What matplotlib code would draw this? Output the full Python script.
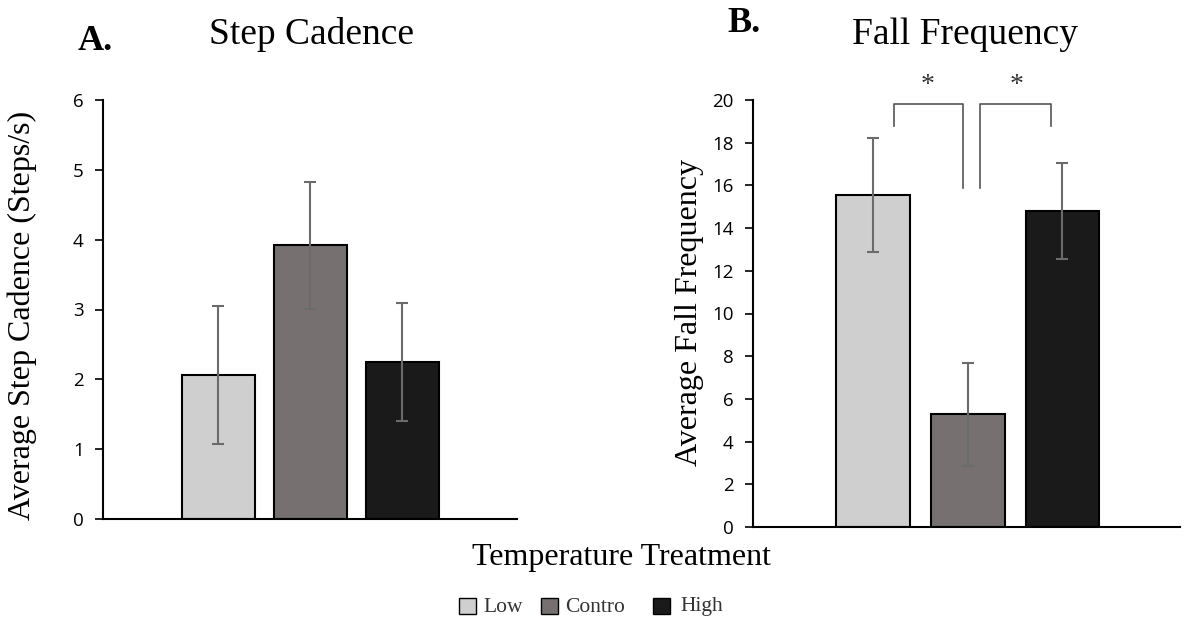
import matplotlib
matplotlib.use("Agg")
import matplotlib.pyplot as plt
from matplotlib.patches import Rectangle

groups = ["Low", "Contro", "High"]
colors = ["#d0cfd0", "#767170", "#1a1a1a"]

cadence_mean = [2.06, 3.92, 2.25]
cadence_err = [0.99, 0.91, 0.85]

fall_mean = [15.55, 5.28, 14.8]
fall_err = [2.65, 2.4, 2.25]

serif = "Liberation Serif"
sans = "Open Sans"

W, H = 1184, 621
fig = plt.figure(figsize=(W/100, H/100), dpi=100)

axA = fig.add_axes([103/W, 1-519/H, 414/W, 419/H])
axB = fig.add_axes([753/W, 1-527/H, 427/W, 427/H])

def draw(ax, means, errs, ylim, yticks, xlim, width):
    x = list(range(len(means)))
    ax.bar(x, means, width=width, color=colors, edgecolor="black", linewidth=1.5, zorder=2)
    ax.errorbar(x, means, yerr=errs, fmt="none", ecolor="#6b6b6b", elinewidth=1.5,
                capsize=4.5, capthick=1.5, zorder=3)
    ax.set_ylim(*ylim)
    ax.set_xlim(*xlim)
    ax.set_yticks(yticks)
    ax.set_xticks([])
    for s in ["top", "right"]:
        ax.spines[s].set_visible(False)
    ax.spines["left"].set_linewidth(1.5)
    ax.spines["bottom"].set_linewidth(1.5)
    ax.tick_params(axis="y", direction="out", length=6, width=1.2, labelsize=13.5, pad=8)
    for t in ax.get_yticklabels():
        t.set_fontfamily(sans)

draw(axA, cadence_mean, cadence_err, (0, 6), range(0, 7), (-1.255, 3.245), 0.79)
draw(axB, fall_mean, fall_err, (0, 20), range(0, 21, 2), (-1.266, 3.24), 0.78)

fig.text(22/W, 1-315/H, "Average Step Cadence (Steps/s)", rotation=90, ha="center", va="center",
         fontfamily=serif, fontsize=23)
fig.text(690/W, 1-313/H, "Average Fall Frequency", rotation=90, ha="center", va="center",
         fontfamily=serif, fontsize=23)

# significance brackets
bk = dict(color="#555555", linewidth=1.2, clip_on=False)
axB.plot([0.22, 0.22, 0.95, 0.95], [18.8, 19.8, 19.8, 15.9], **bk)
axB.plot([1.13, 1.13, 1.88, 1.88], [15.9, 19.8, 19.8, 18.8], **bk)
axB.text(0.58, 20.1, "*", ha="center", va="bottom", fontsize=20, fontfamily=serif, color="#333333")
axB.text(1.52, 20.1, "*", ha="center", va="bottom", fontsize=20, fontfamily=serif, color="#333333")

# titles
fig.text(312/W, 1-35/H, "Step Cadence", ha="center", va="center", fontfamily=serif, fontsize=27)
fig.text(965/W, 1-35/H, "Fall Frequency", ha="center", va="center", fontfamily=serif, fontsize=27)
fig.text(95/W, 1-41/H, "A.", ha="center", va="center", fontfamily=serif, fontsize=26, fontweight="bold")
fig.text(744/W, 1-24/H, "B.", ha="center", va="center", fontfamily=serif, fontsize=26, fontweight="bold")

fig.text(621/W, 1-557/H, "Temperature Treatment", ha="center", va="center", fontfamily=serif, fontsize=23)

# legend
patch_x = [459, 541, 653]
text_x = [483, 565, 680]
for px, tx, c, g in zip(patch_x, text_x, colors, groups):
    fig.patches.append(Rectangle((px/W, 1-614/H), 17/W, 16/H, transform=fig.transFigure,
                                 facecolor=c, edgecolor="black", linewidth=1))
    fig.text(tx/W, 1-607/H, g, ha="left", va="center", fontfamily=serif, fontsize=15.5,
             color="#333333")

fig.savefig("out.png", dpi=100)
